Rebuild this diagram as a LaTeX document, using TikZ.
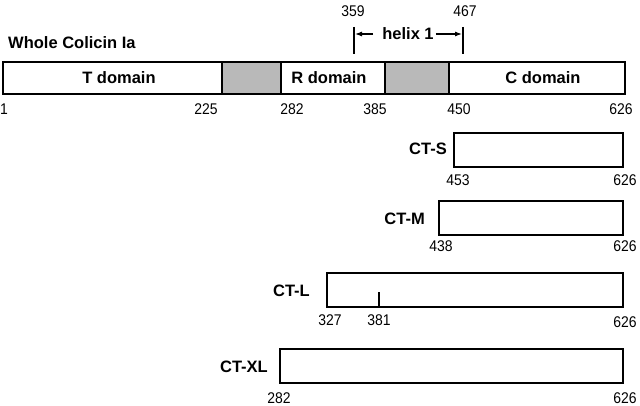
\documentclass[tikz,border=0pt]{standalone}
\usepackage{fontspec}
\setmainfont{Liberation Sans}
\newfontfamily\numfont[FakeStretch=0.9]{Liberation Sans}
\usetikzlibrary{arrows.meta}

\begin{document}
\begin{tikzpicture}[x=1pt,y=-1pt]
    \tikzstyle{every node}=[inner sep=0pt]
    \tikzstyle{seg}=[draw,line width=1.6pt,minimum height=32pt,anchor=north west]
    \tikzstyle{shaded}=[seg,fill=gray!55]
    \tikzstyle{frag}=[draw,line width=1.6pt,minimum height=34pt,anchor=north west]
    \tikzstyle{numlbl}=[font=\numfont\fontsize{15.5}{17}\selectfont]
    \tikzstyle{lbl}=[font=\fontsize{16.5}{18}\selectfont\bfseries]
    \tikzstyle{tick}=[line width=1.3pt]
    \tikzstyle{harrow}=[line width=1.1pt,-{Latex[length=7pt,width=5pt]}]

    \useasboundingbox (0,0) rectangle (640,406);

    % The whole protein, cut into its domains
    \node[lbl,anchor=west] (title) at (8,43) {Whole Colicin Ia};
    \node[seg,minimum width=219pt] (tdom) at (2,61) {};
    \node[shaded,minimum width=59pt] (grey1) at (221,61) {};
    \node[seg,minimum width=104pt] (rdom) at (280,61) {};
    \node[shaded,minimum width=64pt] (grey2) at (384,61) {};
    \node[seg,minimum width=176pt] (cdom) at (448,61) {};
    \node[lbl] (tlab) at (119,78) {T domain};
    \node[lbl] (rlab) at (329,78) {R domain};
    \node[lbl] (clab) at (543,78) {C domain};

    % Residue numbers under the bar
    \node[numlbl] (n1) at (4,109) {1};
    \node[numlbl] (n225) at (206,109) {225};
    \node[numlbl] (n282) at (292,109) {282};
    \node[numlbl] (n385) at (375,109) {385};
    \node[numlbl] (n450) at (459,109) {450};
    \node[numlbl] (n626) at (621,109) {626};

    % helix 1 marker
    \node[numlbl] (n359) at (353,11) {359};
    \node[numlbl] (n467) at (465,11) {467};
    \coordinate (hlt) at (354,27);
    \coordinate (hlb) at (354,54);
    \coordinate (hrt) at (463,27);
    \coordinate (hrb) at (463,54);
    \draw[tick] (hlt) -- (hlb);
    \draw[tick] (hrt) -- (hrb);
    \node[lbl] (helix) at (408,34) {helix 1};
    \coordinate (hla) at (355,34);
    \coordinate (hra) at (462,34);
    \draw[harrow] ([xshift=-9pt]helix.west) -- (hla);
    \draw[harrow] ([xshift=2pt]helix.east) -- (hra);

    % The fragments
    \node[frag,minimum width=169pt] (cts) at (453,132) {};
    \node[lbl,anchor=east] (ctslab) at (447,149) {CT-S};
    \node[numlbl] (n453) at (458,180) {453};
    \node[numlbl] (cts626) at (625,180) {626};

    \node[frag,minimum width=184pt] (ctm) at (438,200) {};
    \node[lbl,anchor=east] (ctmlab) at (425,219) {CT-M};
    \node[numlbl] (n438) at (441,246) {438};
    \node[numlbl] (ctm626) at (625,246) {626};

    \node[frag,minimum width=296pt] (ctl) at (326,272) {};
    \node[lbl,anchor=east] (ctllab) at (310,291) {CT-L};
    \coordinate (m381) at (379,292);
    \draw[tick] (m381) -- (m381 |- ctl.south);
    \node[numlbl] (n327) at (330,320) {327};
    \node[numlbl] (n381) at (379,320) {381};
    \node[numlbl] (ctl626) at (625,322) {626};

    \node[frag,minimum width=343pt] (ctxl) at (279,348) {};
    \node[lbl,anchor=east] (ctxllab) at (268,367) {CT-XL};
    \node[numlbl] (n282b) at (279,398) {282};
    \node[numlbl] (ctxl626) at (625,398) {626};

\end{tikzpicture}
\end{document}
